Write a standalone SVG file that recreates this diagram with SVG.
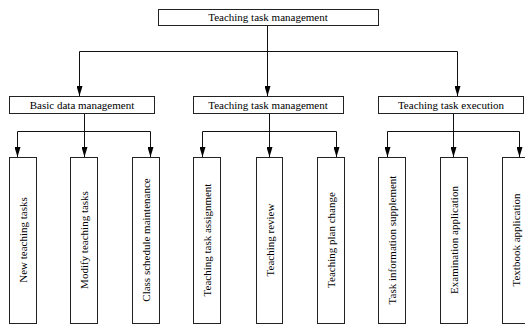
<svg xmlns="http://www.w3.org/2000/svg" width="525" height="325" viewBox="0 0 525 325">
<defs>
<marker id="ah" viewBox="0 0 10 6" refX="10" refY="3" markerWidth="10" markerHeight="6" markerUnits="userSpaceOnUse" orient="auto">
<path d="M0,0 L10,3 L0,6 Z" fill="#000"/>
</marker>
<style>
.box{fill:#fff;stroke:#222;stroke-width:1}
.t{font-family:"Liberation Serif","Times New Roman",serif;font-size:11px;fill:#000;text-anchor:middle}
.v{dominant-baseline:central}
.c{fill:none;stroke:#111;stroke-width:1}
</style>
</defs>
<rect width="525" height="325" fill="#fff"/>
<g id="connectors">
<path class="c" d="M267.5,25 V51.5 M79.5,51.5 H457.5"/>
<path class="c" d="M79.5,51.5 V96" marker-end="url(#ah)"/>
<path class="c" d="M267.5,51.5 V96" marker-end="url(#ah)"/>
<path class="c" d="M457.5,51.5 V96" marker-end="url(#ah)"/>
<path class="c" d="M84.5,113 V131.5 M17.5,131.5 H150.5"/>
<path class="c" d="M17.5,131.5 V157" marker-end="url(#ah)"/>
<path class="c" d="M84.5,131.5 V157" marker-end="url(#ah)"/>
<path class="c" d="M150.5,131.5 V157" marker-end="url(#ah)"/>
<path class="c" d="M269.5,113 V131.5 M202.5,131.5 H336.5"/>
<path class="c" d="M202.5,131.5 V157" marker-end="url(#ah)"/>
<path class="c" d="M269.5,131.5 V157" marker-end="url(#ah)"/>
<path class="c" d="M336.5,131.5 V157" marker-end="url(#ah)"/>
<path class="c" d="M453.5,113 V131.5 M387.5,131.5 H519.5"/>
<path class="c" d="M387.5,131.5 V157" marker-end="url(#ah)"/>
<path class="c" d="M453.5,131.5 V157" marker-end="url(#ah)"/>
<path class="c" d="M519.5,131.5 V157" marker-end="url(#ah)"/>
</g>
<g id="root"><rect class="box" x="158.5" y="9.5" width="220" height="16"/><text class="t" x="268" y="21">Teaching task management</text></g>
<g id="basic"><rect class="box" x="9.5" y="96.5" width="145" height="17"/><text class="t" x="82" y="108.5">Basic data management</text></g>
<g id="mgmt"><rect class="box" x="193.5" y="96.5" width="150" height="17"/><text class="t" x="268" y="108.5">Teaching task management</text></g>
<g id="exec"><rect class="box" x="378.5" y="96.5" width="145" height="17"/><text class="t" x="451" y="108.5">Teaching task execution</text></g>
<g id="n1"><rect class="box" x="9.5" y="157.5" width="27" height="166"/><text class="t v" transform="translate(23,240) rotate(-90)">New teaching tasks</text></g>
<g id="n2"><rect class="box" x="70.5" y="157.5" width="27" height="166"/><text class="t v" transform="translate(84,240) rotate(-90)">Modify teaching tasks</text></g>
<g id="n3"><rect class="box" x="132.5" y="157.5" width="27" height="166"/><text class="t v" transform="translate(146,240) rotate(-90)">Class schedule maintenance</text></g>
<g id="n4"><rect class="box" x="193.5" y="157.5" width="27" height="166"/><text class="t v" transform="translate(207,240) rotate(-90)">Teaching task assignment</text></g>
<g id="n5"><rect class="box" x="256.5" y="157.5" width="26" height="166"/><text class="t v" transform="translate(269.5,240) rotate(-90)">Teaching review</text></g>
<g id="n6"><rect class="box" x="317.5" y="157.5" width="27" height="166"/><text class="t v" transform="translate(331,240) rotate(-90)">Teaching plan change</text></g>
<g id="n7"><rect class="box" x="378.5" y="157.5" width="27" height="166"/><text class="t v" transform="translate(392,240) rotate(-90)">Task information supplement</text></g>
<g id="n8"><rect class="box" x="440.5" y="157.5" width="27" height="166"/><text class="t v" transform="translate(454,240) rotate(-90)">Examination application</text></g>
<g id="n9"><rect class="box" x="502.5" y="157.5" width="27" height="166"/><text class="t v" transform="translate(516,240) rotate(-90)">Textbook application</text></g>
</svg>
